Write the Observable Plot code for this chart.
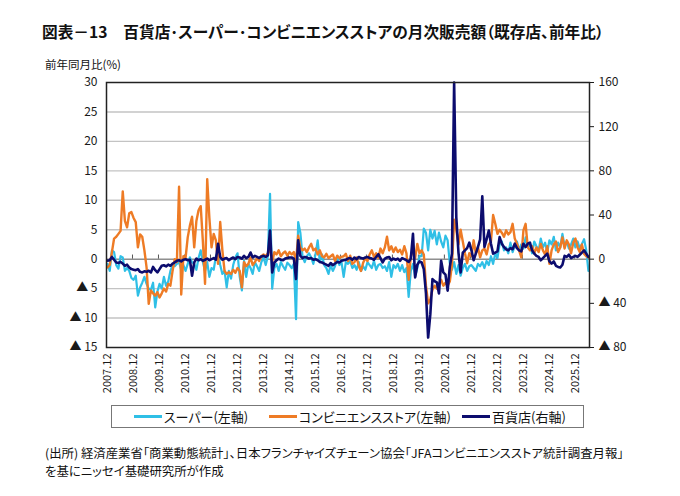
<!DOCTYPE html>
<html><head><meta charset="utf-8">
<script src="https://cdn.jsdelivr.net/npm/d3@7"></script>
<script src="https://cdn.jsdelivr.net/npm/@observablehq/plot@0.6"></script>
<style>
body{margin:0;background:#fff;font-family:"Noto Sans CJK JP","Noto Sans",sans-serif;color:#111;font-feature-settings:"palt";}
#wrap{position:relative;width:680px;height:496px;overflow:hidden;}
#chart{position:absolute;left:0;top:0;}
#title{position:absolute;left:42px;top:22px;font-size:15.7px;font-weight:bold;white-space:nowrap;line-height:20px;}
#ylab{position:absolute;left:45px;top:57px;font-size:11.5px;line-height:14px;white-space:nowrap;}
#legend{position:absolute;left:111px;top:405px;width:471px;height:21px;border:1px solid #777;background:#fff;}
.li{position:absolute;top:0;height:21px;display:flex;align-items:center;font-size:13px;white-space:nowrap;}
.sw{display:inline-block;width:28px;height:3px;margin-right:2px;}
.cap{position:absolute;left:45px;font-size:12.4px;line-height:18px;white-space:nowrap;}
</style></head>
<body><div id="wrap">
<div id="chart"></div>
<div id="title">図表－13　百貨店･スーパー･コンビニエンスストアの月次販売額（既存店、前年比）</div>
<div id="ylab">前年同月比(%)</div>
<div id="legend"></div>
<div id="cap1" class="cap" style="top:444px"></div>
<div id="cap2" class="cap" style="top:462px"></div>
</div>
<script>
// monthly series, 2007.12 ... 2026.06
const superVals = [
 -0.8,
 -2.0, 1.5, 1.2, -1.0, -1.6, 0.5, 0.3, -2.0, -1.5, -2.0, -3.2, -3.5,
 -2.8, -6.2, -4.8, -4.0, -3.0, -4.2, -5.0, -5.2, -4.0, -8.2, -5.5, -4.2,
 -5.0, -3.0, -4.5, -3.8, -2.0, -1.0, -1.2, -0.8, -0.5, -1.8, -1.0, -2.0,
 -0.8, 0.3, -0.5, -0.8, -1.8, 0.2, 1.5, -0.5, -2.0, -0.5, -3.0, -1.5,
 -1.8, 0.5, 1.2, -1.0, -2.5, -2.0, -4.8, -2.0, -3.3, -1.0, 0.3, 1.0,
 -3.0, -5.3, -0.3, -3.0, -0.8, -1.5, -2.5, -0.5, -1.2, -2.0, -0.5, 0.3,
 -1.0, 0.5, 11.1, -5.0, -1.5, -0.8, -2.0, -0.5, -1.2, -1.8, -0.6, -1.0,
 -1.5, -0.8, -10.2, 6.3, 4.5, 0.5, -0.5, 0.5, 1.0, 0.3, -0.8, 0.8,
 3.2, -0.5, 0.8, -1.0, -1.5, -2.5, -1.0, -2.0, -1.2, 0.3, -1.0, -0.5,
 -3.0, -0.5, -0.8, -0.3, -1.5, -1.0, -1.8, -0.5, -2.0, -1.2, -1.8, -0.5,
 -1.0, -1.5, -0.3, -1.8, -1.0, -0.8, -1.5, -1.2, -2.0, -0.5, -3.0, -1.0,
 -1.5, -0.8, -2.0, -1.0, -2.2, -1.5, -6.4, -2.0, -0.8, -3.0, -1.5, 0.5,
 0.5, 5.2, 4.5, 1.5, 5.0, 3.5, 4.8, 2.5, 4.5, 3.0, 2.0, 4.0,
 3.2, -0.7, -1.8, -0.5, -2.5, -1.0, -2.8, -1.5, -0.8, -2.0, -1.2, -1.0,
 -1.5, -2.0, -0.8, -1.2, -0.5, -1.5, -0.3, -1.0, 0.5, -0.8, 1.0, 0.2,
 2.5, 3.0, 1.5, 2.0, 1.0, 2.8, 1.2, 2.2, 3.0, 1.5, 2.5, 1.8,
 3.7, 2.0, 2.5, 1.0, 3.0, 2.2, 1.5, 3.5, 2.0, 2.8, 1.2, 3.2,
 2.5, 3.8, 1.5, 2.8, 2.0, 4.3, 2.2, 3.0, 1.8, 2.5, 3.5, 2.0,
 3.0, 1.8, 2.6, 3.4, 1.5, -2.0
];
const cvsVals = [
 -1.4,
 -1.0, 1.2, 3.5, 3.8, 4.3, 4.8, 11.5, 6.5, 5.4, 7.8, 8.0, 7.0,
 6.3, 2.0, 4.2, 3.8, 1.5, -1.4, -7.6, -5.3, -5.8, -6.2, -5.6, -6.5,
 -5.8, -5.0, -5.5, -4.2, -4.5, -2.0, 0.0, -0.5, 12.3, -6.0, 0.5, 0.2,
 3.7, 5.7, 7.2, 2.0, 6.5, 8.3, 9.0, 3.0, -4.2, 13.6, 7.0, 2.0,
 4.3, 3.2, -0.8, 6.3, 1.5, -2.0, -2.5, -2.2, -2.5, -1.8, -2.3, -1.5,
 -2.0, -4.8, -0.5, -1.2, -0.8, 0.3, -1.0, -0.5, 0.2, -0.3, 0.5, 0.8,
 0.5, 1.0, 1.8, -0.5, 1.2, 0.8, 1.5, 0.5, 1.0, 1.3, 0.6, 1.2,
 0.8, 1.2, -0.5, 4.0, 2.0, 1.5, 1.8, 1.2, 2.0, 2.6, 1.5, 1.8,
 0.8, 1.5, 0.5, 0.3, 0.9, 0.2, 0.5, 0.8, -0.3, 0.6, 0.2, 0.4,
 0.5, 0.9, -0.3, 0.6, -0.8, -0.5, 0.3, -1.2, -2.0, -0.6, 0.2, -0.3,
 0.8, 1.5, 0.4, 1.0, 0.2, 1.8, 1.0, 2.0, 3.8, 1.5, 2.2, 1.2,
 2.0, 1.2, 1.6, 0.8, 2.2, 1.0, -3.5, 0.5, 1.5, 0.2, 2.6, 1.0,
 1.5, 0.8, -4.5, -7.5, -6.8, -5.2, -4.5, -5.0, -4.2, -3.5, -4.5, -4.0,
 -4.5, -3.8, -1.0, 6.7, 5.0, 2.5, 5.0, 3.0, 1.0, -0.7, 1.0, 0.5,
 3.2, 1.0, 2.0, 0.3, 1.5, 1.8, 0.8, 2.5, 3.0, 7.5, 6.0, 4.3,
 5.0, 4.5, 3.8, 4.9, 4.2, 4.6, 6.0, 3.5, 2.6, 1.5, 0.3, 4.9,
 6.0, 2.0, 1.5, 2.2, 1.0, 2.0, 1.2, 2.6, 1.5, 0.8, 2.2, -0.8,
 1.5, 2.5, 3.0, 1.2, 2.0, 3.7, 1.8, 3.2, 2.5, 1.0, 2.8, 3.5,
 2.0, 1.2, 2.5, 0.9, 0.5, 0.3
];
const deptVals = [
 -1.3,
 -1.0, 2.0, -0.5, -3.0, -3.5, -2.5, -4.0, -6.0, -5.0, -7.5, -9.0, -9.5,
 -10.0, -9.0, -11.5, -12.0, -11.0, -11.5, -10.5, -12.0, -7.0, -10.0, -12.0, -9.0,
 -6.0, -5.5, -6.5, -5.0, -6.0, -4.0, -3.0, -1.5, -1.0, -2.0, -0.5, 0.0,
 -1.0, -0.5, -15.0, -3.0, 0.5, -1.0, 0.0, -1.5, -0.5, 0.5, -1.0, 0.0,
 1.0, -0.5, 14.0, 2.0, -0.5, 0.5, 1.0, -1.0, 0.5, 1.5, 0.0, 2.0,
 1.5, 0.5, 3.0, 1.0, 2.0, 6.0, 1.5, 3.0, 2.0, 1.0, 2.5, 3.0,
 2.0, 3.5, 26.0, -12.0, -3.0, -1.0, 0.5, -0.5, -1.0, 0.5, 1.0, 1.5,
 1.5, 0.5, -18.0, 17.0, 3.0, 1.0, 2.0, 1.5, 0.5, 1.0, -0.5, 0.0,
 -1.0, -2.5, -3.0, -4.0, -5.0, -6.0, -3.5, -5.5, -4.0, -2.5, -3.0, -1.5,
 -1.0, -0.5, 0.5, 1.0, -0.5, 1.5, 0.0, 2.0, 1.0, 0.5, 1.5, 2.0,
 1.0, 0.5, -0.5, 2.0, 4.5, 1.0, -3.0, 0.5, 1.5, 2.0, -1.0, 0.5,
 -0.5, 0.5, -1.5, 1.0, 0.0, -1.0, -2.5, 0.5, 23.0, -16.5, -5.0, -2.0,
 -3.0, -9.0, -31.0, -71.0, -50.0, -18.0, -20.0, -21.0, -31.0, -1.5, -12.0, -14.0,
 -28.5, -7.0, 5.0, 160.0, 38.0, 6.0, -12.0, 6.0, 8.0, 10.0, 15.0, 8.0,
 -1.0, 5.0, 11.0, 18.0, 57.0, 11.0, 18.0, 26.0, 14.0, 5.0, 6.0, 7.0,
 20.0, 14.0, 11.0, 9.0, 8.0, 10.0, 9.0, 14.0, 10.0, 8.0, 7.0, 14.0,
 11.0, 14.0, 15.0, 8.0, 5.0, 3.0, 2.0, -1.0, 1.0, 3.0, 5.0, -2.0,
 -4.0, -2.0, -6.0, -7.0, -7.5, -5.0, 3.0, 2.0, 4.0, 1.0, 2.0, 3.0,
 2.0, 4.0, 6.0, 8.0, 5.0, 2.0
];
const xTickLabels = ["2007.12","2008.12","2009.12","2010.12","2011.12","2012.12","2013.12","2014.12","2015.12","2016.12","2017.12","2018.12","2019.12","2020.12","2021.12","2022.12","2023.12","2024.12","2025.12"];
const leftTicks = [30,25,20,15,10,5,0,-5,-10,-15];
const rightTicks = [160,120,80,40,0,-40,-80];
const leftDomain = [-15, 30];
const rightDomain = [-80, 160];
const seriesNames = ["スーパー(左軸)","コンビニエンスストア(左軸)","百貨店(右軸)"];
const seriesColors = ["#2fbfe6","#ee7b25","#0c0c6e"];
const captionLines = [
  "(出所) 経済産業省「商業動態統計」、日本フランチャイズチェーン協会「JFAコンビニエンスストア統計調査月報」",
  "を基にニッセイ基礎研究所が作成"
];

const ratio = (leftDomain[1]-leftDomain[0])/(rightDomain[1]-rightDomain[0]);
const fmt = v => v < 0 ? "▲ " + (-v) : String(v);
const labelPos = xTickLabels.map((_, k) => k * 12);
const n = superVals.length;

const chart = Plot.plot({
  width: 680, height: 400,
  marginTop: 82, marginBottom: 53, marginLeft: 106, marginRight: 91,
  x: {domain: [-0.5, n - 0.5]},
  y: {domain: leftDomain},
  style: {fontFamily: '"Noto Sans CJK JP","Noto Sans",sans-serif', fontSize: "12px", color: "#1a1a1a", background: "transparent"},
  marks: [
    Plot.ruleY(leftTicks.filter(v => v !== 0 && v !== leftDomain[0] && v !== leftDomain[1]), {stroke: "#c3c3c3", strokeWidth: 1.4}),
    Plot.ruleY([0], {stroke: "#555", strokeWidth: 1}),
    Plot.ruleX(labelPos.slice(1).map(p => p - 0.5), {y1: 0, y2: 0.7, stroke: "#555", strokeWidth: 1}),
    Plot.lineY(superVals, {x: (d, i) => i, y: d => d, stroke: seriesColors[0], strokeWidth: 2.2}),
    Plot.lineY(cvsVals, {x: (d, i) => i, y: d => d, stroke: seriesColors[1], strokeWidth: 2.4}),
    Plot.lineY(deptVals, {x: (d, i) => i, y: d => d * ratio, stroke: seriesColors[2], strokeWidth: 2.6}),
    Plot.axisY(leftTicks, {anchor: "left", tickSize: 0, tickPadding: 9, tickFormat: fmt, label: null, fontSize: 12}),
    Plot.axisY(rightTicks.map(v => v * ratio), {anchor: "right", tickSize: 4, tickPadding: 5, tickFormat: v => fmt(Math.round(v / ratio)), label: null, fontSize: 12}),
    Plot.axisX(labelPos, {anchor: "bottom", tickSize: 0, tickPadding: 6, tickRotate: -90, tickFormat: d => xTickLabels[d / 12], label: null, fontSize: 11}),
    Plot.frame({stroke: "#222", strokeWidth: 1.5})
  ]
});
document.getElementById("chart").appendChild(chart);

const legend = document.getElementById("legend");
const legendX = [22, 157, 350];
seriesNames.forEach((name, i) => {
  const d = document.createElement("div");
  d.className = "li";
  d.style.left = legendX[i] + "px";
  d.innerHTML = `<span class="sw" style="background:${seriesColors[i]}"></span>${name}`;
  legend.appendChild(d);
});
document.getElementById("cap1").textContent = captionLines[0];
document.getElementById("cap2").textContent = captionLines[1];
</script>
</body></html>
